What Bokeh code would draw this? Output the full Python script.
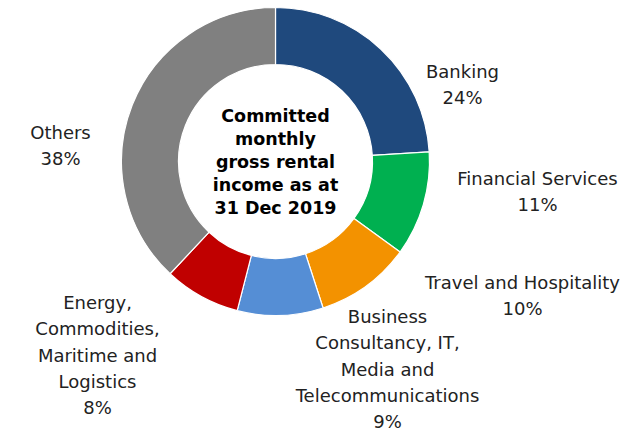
import math
from bokeh.plotting import figure
from bokeh.models import Range1d, ColumnDataSource
from bokeh.core.properties import value
from bokeh.embed import file_html
from bokeh.resources import INLINE

categories = ["Banking", "Financial Services", "Travel and Hospitality",
              "Business\nConsultancy, IT,\nMedia and\nTelecommunications",
              "Energy,\nCommodities,\nMaritime and\nLogistics", "Others"]
shares = [24, 11, 10, 9, 8, 38]
colors = ["#1F497D", "#00B050", "#F39200", "#558ED5", "#C00000", "#808080"]
center_title = ["Committed", "monthly", "gross rental", "income as at", "31 Dec 2019"]

# label anchor (x, first-line y) in picture pixels
label_pos = [(462, 71), (537, 178), (522, 282), (387, 316), (97, 302), (60, 132)]

W, H = 638, 431
OX, OY = 0, 0   # picture offset of the plot
CX, CY = 275, 161
R_OUT, R_IN = 154, 97
FONT = "DejaVu Sans"

p = figure(width=W, height=H, output_backend="svg", toolbar_location=None,
           x_range=Range1d(OX, OX + W), y_range=Range1d(-(OY + H), -OY),
           min_border=0)
p.axis.visible = False
p.grid.visible = False
p.outline_line_color = None
p.background_fill_color = "white"
p.border_fill_color = "white"

total = sum(shares)
starts, ends, c = [], [], 0.0
for s in shares:
    a0 = math.pi / 2 - 2 * math.pi * (c + s) / total
    a1 = math.pi / 2 - 2 * math.pi * c / total
    starts.append(a0)
    ends.append(a1)
    c += s

src = ColumnDataSource(dict(x=[CX] * len(shares), y=[-CY] * len(shares),
                            start=starts, end=ends, color=colors))
p.annular_wedge(x="x", y="y", inner_radius=R_IN, outer_radius=R_OUT,
                start_angle="start", end_angle="end", fill_color="color",
                line_color="white", line_width=1.2, source=src)

# labels
lx, ly, lt = [], [], []
LS = 26.3
for cat, sh, (x0, y0) in zip(categories, shares, label_pos):
    lines = cat.split("\n") + [f"{sh}%"]
    for i, t in enumerate(lines):
        lx.append(x0)
        ly.append(-(y0 + i * LS))
        lt.append(t)
p.text(x=lx, y=ly, text=lt, text_align="center", text_baseline="middle",
       text_font=value(FONT), text_font_size="18px", text_color="#222222")

# center title
tx, ty = [], []
for i, t in enumerate(center_title):
    tx.append(CX)
    ty.append(-(115 + i * 23.2))
p.text(x=tx, y=ty, text=center_title, text_align="center", text_baseline="middle",
       text_font=value(FONT), text_font_size="17.5px", text_font_style="bold",
       text_color="black")

open("out.html", "w").write(file_html(p, INLINE))
